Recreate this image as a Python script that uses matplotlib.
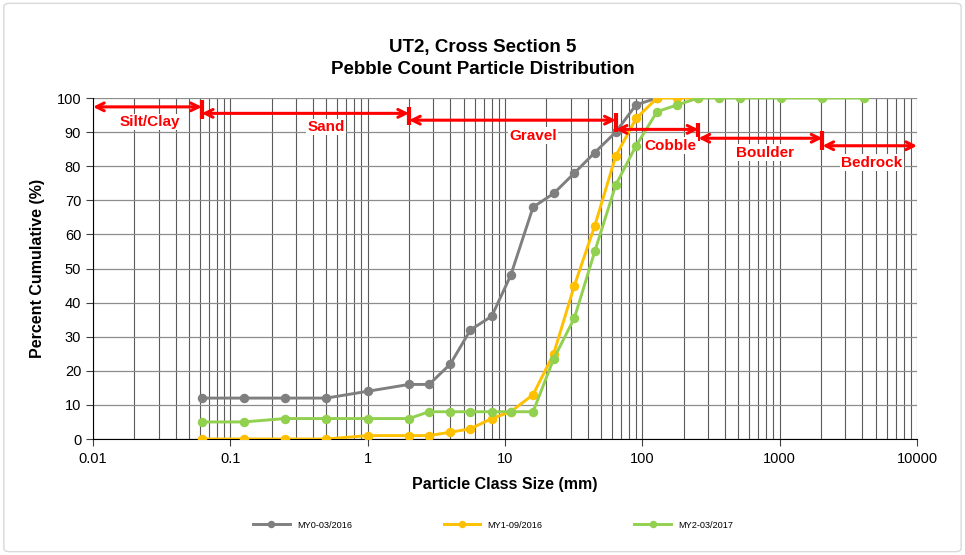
import matplotlib
matplotlib.use("Agg")
import matplotlib.pyplot as plt
from matplotlib.ticker import FixedLocator, FuncFormatter, LogLocator, NullFormatter
from matplotlib.patches import FancyBboxPatch

plt.rcParams['font.family'] = ['Liberation Sans', 'DejaVu Sans']

# particle class sizes (mm)
sizes = [0.062, 0.125, 0.25, 0.5, 1, 2, 2.8, 4, 5.6, 8, 11, 16, 22.6, 32, 45, 64,
         90, 128, 180, 256, 362, 512, 1024, 2048, 4096]

my0 = [12, 12, 12, 12, 14, 16, 16, 22, 32, 36, 48, 68, 72, 78, 84, 90, 98, 100]
my1 = [0, 0, 0, 0, 1, 1, 1, 2, 3, 6, 8, 13, 25, 45, 62.5, 83, 94, 100, 100, 100]
my2 = [5, 5, 6, 6, 6, 6, 8, 8, 8, 8, 8, 8, 23.5, 35.5, 55, 74.5, 86, 96, 98, 100,
       100, 100, 100, 100, 100]

series_names = ["MY0-03/2016", "MY1-09/2016", "MY2-03/2017"]
series_colors = ["#7f7f7f", "#ffc000", "#92d050"]

# size classes shown as red arrows: name, lower bound, upper bound, arrow level, label level
class_names = ["Silt/Clay", "Sand", "Gravel", "Cobble", "Boulder", "Bedrock"]
class_lo = [0.01, 0.062, 2, 64, 256, 2048]
class_hi = [0.062, 2, 64, 256, 2048, 10000]
arrow_y = [97.4, 95.5, 93.5, 90.8, 88.2, 86.0]
label_y = [93.0, 91.5, 89.0, 86.0, 84.0, 81.0]
label_x = [0.026, 0.5, 16, 160, 780, 4700]

fig = plt.figure(figsize=(9.65, 5.55), dpi=100)
ax = fig.add_axes([0.0964, 0.209, 0.8539, 0.6144])

for vals, name, col in zip([my0, my1, my2], series_names, series_colors):
    ax.plot(sizes[:len(vals)], vals, color=col, lw=2.1, marker='o', ms=5.8,
            label=name, zorder=3)

ax.set_xscale('log')
ax.set_xlim(0.01, 10000)
ax.set_ylim(0, 100)
ax.set_yticks(range(0, 101, 10))
ax.xaxis.set_major_locator(FixedLocator([0.01, 0.1, 1, 10, 100, 1000, 10000]))
ax.xaxis.set_minor_locator(LogLocator(base=10, subs=range(2, 10), numticks=20))
ax.xaxis.set_minor_formatter(NullFormatter())
ax.xaxis.set_major_formatter(FuncFormatter(lambda v, p: ('%g' % v)))
ax.tick_params(axis='x', which='major', length=5, color='#404040', labelsize=10.5, pad=4)
ax.tick_params(axis='x', which='minor', length=0)
ax.tick_params(axis='y', which='major', length=5, color='#404040', labelsize=10.5)

ax.grid(True, axis='x', which='both', color='#5a5a5a', lw=0.8)
ax.grid(True, axis='y', which='major', color='#8c8c8c', lw=0.9)
ax.set_axisbelow(True)
for s in ['top', 'right']:
    ax.spines[s].set_visible(False)
ax.spines['left'].set_color('black')
ax.spines['bottom'].set_color('black')

ax.set_xlabel("Particle Class Size (mm)", fontsize=11.5, fontweight='bold', labelpad=8)
ax.set_ylabel("Percent Cumulative (%)", fontsize=11.5, fontweight='bold', labelpad=8)
fig.text(0.5, 0.895, "UT2, Cross Section 5\nPebble Count Particle Distribution",
         ha='center', va='center', fontsize=13.5, fontweight='bold', linespacing=1.35)

# class arrows
for name, lo, hi, ay, ly, lx in zip(class_names, class_lo, class_hi, arrow_y, label_y, label_x):
    ax.annotate('', xy=(lo, ay), xytext=(hi, ay),
                arrowprops=dict(arrowstyle='<->', color='red', lw=2.2,
                                mutation_scale=14, shrinkA=0, shrinkB=0), zorder=5)
    if hi < 10000:
        ax.plot([hi, hi], [ay - 3.5, ay + 2], color='red', lw=3, zorder=5,
                solid_capstyle='butt')
    ax.text(lx, ly, name, color='red', fontsize=11, fontweight='bold',
            ha='center', va='center', zorder=6,
            bbox=dict(facecolor='white', edgecolor='none', pad=1.0))

leg = fig.legend(loc='center', bbox_to_anchor=(0.511, 0.054), ncol=3, frameon=False,
                 fontsize=6.6, columnspacing=10.0, handlelength=4, markerscale=0.75)

fig.patches.append(FancyBboxPatch((0.004, 0.006), 0.992, 0.988,
                                  boxstyle='round,pad=0,rounding_size=0.006',
                                  transform=fig.transFigure, facecolor='none',
                                  edgecolor='#d9d9d9', lw=1))

fig.savefig("out.png", dpi=100)
